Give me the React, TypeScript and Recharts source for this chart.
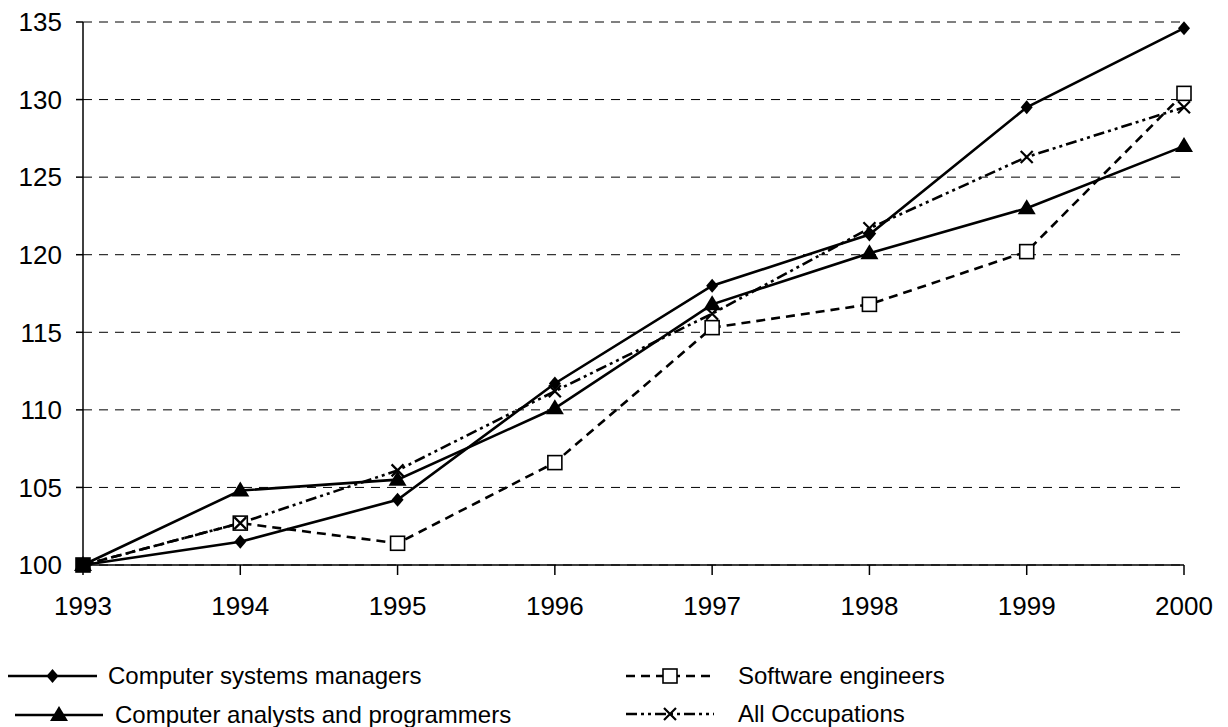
import { LineChart, Line, XAxis, YAxis, CartesianGrid } from "recharts";

const years = ["1993", "1994", "1995", "1996", "1997", "1998", "1999", "2000"];
const systemsManagers = [100, 101.5, 104.2, 111.7, 118.0, 121.3, 129.5, 134.6];
const softwareEngineers = [100, 102.7, 101.4, 106.6, 115.3, 116.8, 120.2, 130.4];
const analystsProgrammers = [100, 104.8, 105.5, 110.1, 116.8, 120.1, 123.0, 127.0];
const allOccupations = [100, 102.7, 106.1, 111.2, 116.2, 121.7, 126.3, 129.5];
const yTicks = [100, 105, 110, 115, 120, 125, 130, 135];

const data = years.map((year, i) => ({
  year,
  managers: systemsManagers[i],
  engineers: softwareEngineers[i],
  analysts: analystsProgrammers[i],
  all: allOccupations[i],
}));

const FONT = "'Liberation Sans', Arial, sans-serif";

type MarkProps = { cx?: number; cy?: number; index?: number };
type ShapeProps = { cx?: number; cy?: number; solid?: boolean };

function Diamond({ cx = 0, cy = 0 }: ShapeProps) {
  const w = 6;
  const h = 7;
  return <path d={`M${cx},${cy - h}L${cx + w},${cy}L${cx},${cy + h}L${cx - w},${cy}Z`} fill="#000" />;
}

function Triangle({ cx = 0, cy = 0 }: ShapeProps) {
  return <path d={`M${cx},${cy - 9}L${cx + 9},${cy + 6}L${cx - 9},${cy + 6}Z`} fill="#000" />;
}

function Square({ cx = 0, cy = 0, solid }: ShapeProps) {
  return (
    <rect x={cx - 7} y={cy - 7} width={14} height={14} fill={solid ? "#000" : "#fff"} stroke="#000" strokeWidth={1.6} />
  );
}

function Cross({ cx = 0, cy = 0 }: ShapeProps) {
  const r = 6;
  return (
    <path
      d={`M${cx - r},${cy - r}L${cx + r},${cy + r}M${cx + r},${cy - r}L${cx - r},${cy + r}`}
      stroke="#000"
      strokeWidth={2.2}
      fill="none"
    />
  );
}

// at the first year all four markers overlap into one black square
const dot = (Shape: (p: ShapeProps) => React.JSX.Element) => (p: MarkProps) =>
  <Shape key={`d${p.index}`} cx={p.cx} cy={p.cy} solid={p.index === 0} />;

const legendItems = [
  { label: "Computer systems managers", dash: undefined, Shape: Diamond, x: 8, y: 676, len: 89, textX: 108 },
  { label: "Computer analysts and programmers", dash: undefined, Shape: Triangle, x: 15, y: 715, len: 88, textX: 115 },
  { label: "Software engineers", dash: "9 6", Shape: Square, x: 626, y: 676, len: 88, textX: 738 },
  { label: "All Occupations", dash: "11 4 3 4 3 4", Shape: Cross, x: 626, y: 714, len: 88, textX: 738 },
];

export default function App() {
  return (
    <div style={{ position: "relative", width: 1228, height: 727, background: "#fff" }}>
      <style>{`body{margin:0;background:#fff}`}</style>
      <LineChart width={1228} height={727} data={data} margin={{ top: 22, right: 44, left: 0, bottom: 102 }}>
        <CartesianGrid horizontal vertical={false} stroke="#000" strokeWidth={1} strokeDasharray="9 7" />
        <XAxis
          dataKey="year"
          height={60}
          tickLine={{ stroke: "#000", strokeWidth: 1.5 }}
          axisLine={{ stroke: "#000", strokeWidth: 1.5 }}
          tickSize={10}
          tickMargin={22}
          interval={0}
          tick={{ fill: "#000", fontSize: 26, fontFamily: FONT }}
        />
        <YAxis
          width={83}
          domain={[100, 135]}
          ticks={yTicks}
          interval={0}
          tickLine={{ stroke: "#000", strokeWidth: 1.5 }}
          axisLine={{ stroke: "#000", strokeWidth: 1.5 }}
          tickSize={7}
          tickMargin={14}
          tick={{ fill: "#000", fontSize: 26, fontFamily: FONT }}
        />
        <Line dataKey="engineers" stroke="#000" strokeWidth={2.6} strokeDasharray="9 6" dot={dot(Square)} isAnimationActive={false} />
        <Line dataKey="all" stroke="#000" strokeWidth={2.6} strokeDasharray="11 4 3 4 3 4" dot={dot(Cross)} isAnimationActive={false} />
        <Line dataKey="analysts" stroke="#000" strokeWidth={2.6} dot={dot(Triangle)} isAnimationActive={false} />
        <Line dataKey="managers" stroke="#000" strokeWidth={2.6} dot={dot(Diamond)} isAnimationActive={false} />
      </LineChart>
      <svg width={1228} height={727} style={{ position: "absolute", left: 0, top: 0, pointerEvents: "none" }}>
        {legendItems.map(({ label, dash, Shape, x, y, len, textX }) => (
          <g key={label}>
            <line x1={x} x2={x + len} y1={y} y2={y} stroke="#000" strokeWidth={2.6} strokeDasharray={dash} />
            <Shape cx={x + len / 2} cy={y} />
            <text x={textX} y={y} dy="0.35em" fontSize={24} fontFamily={FONT} fill="#000">
              {label}
            </text>
          </g>
        ))}
      </svg>
    </div>
  );
}
